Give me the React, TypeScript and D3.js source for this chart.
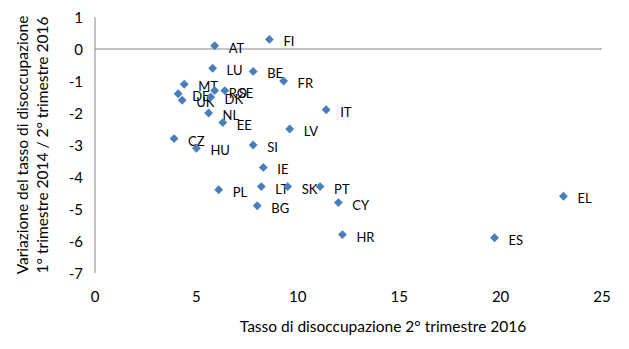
import React from "react";
import * as d3 from "d3";

const countries = ["AT","FI","LU","BE","FR","MT","DE","UK","RO","SE","DK","NL","EE","IT","LV","CZ","HU","SI","IE","PL","LT","SK","PT","BG","CY","HR","EL","ES"];
const unemployment2016 = [5.9,8.6,5.8,7.8,9.3,4.4,4.1,4.3,5.9,6.4,5.7,5.6,6.3,11.4,9.6,3.9,5.0,7.8,8.3,6.1,8.2,9.5,11.1,8.0,12.0,12.2,23.1,19.7];
const change2014to2016 = [0.1,0.3,-0.6,-0.7,-1.0,-1.1,-1.4,-1.6,-1.3,-1.3,-1.5,-2.0,-2.3,-1.9,-2.5,-2.8,-3.1,-3.0,-3.7,-4.4,-4.3,-4.3,-4.3,-4.9,-4.8,-5.8,-4.6,-5.9];
const xTicks = [0,5,10,15,20,25];
const yTicks = [1,0,-1,-2,-3,-4,-5,-6,-7];
const xTitle = "Tasso di disoccupazione 2° trimestre 2016";
const yTitle = ["Variazione del tasso di disoccupazione", "1° trimestre 2014 / 2° trimestre 2016"];

const W = 629, H = 349;
const FONT = "Lato, 'Open Sans', sans-serif";

export default function App() {
  const x = d3.scaleLinear().domain([0, 25]).range([95, 602]);
  const y = d3.scaleLinear().domain([1, -7]).range([17, 273]);
  const diamond = d3.symbol().type(d3.symbolDiamond2).size(50)();
  const axisColor = "#868686";
  return (
    <svg width={W} height={H} style={{ position: "absolute", left: 0, top: 0, background: "#fff" }} fontFamily={FONT}>
      <rect x={0} y={0} width={W} height={H} fill="#fff" />
      <line x1={x(0)} x2={x(0)} y1={y(1)} y2={y(-7)} stroke={axisColor} strokeWidth={1} />
      <line x1={x(0)} x2={x(25)} y1={y(0)} y2={y(0)} stroke={axisColor} strokeWidth={1} />
      {yTicks.map((t) => (
        <text key={"y" + t} x={83} y={y(t)} textAnchor="end" dominantBaseline="central" fontSize={15} fill="#000">
          {t}
        </text>
      ))}
      {xTicks.map((t) => (
        <text key={"x" + t} x={x(t)} y={296} textAnchor="middle" dominantBaseline="central" fontSize={15} fill="#000">
          {t}
        </text>
      ))}
      <text x={383} y={326} textAnchor="middle" dominantBaseline="central" fontSize={15.5} fill="#000">
        {xTitle}
      </text>
      {yTitle.map((line, i) => (
        <text key={"yt" + i} transform={`translate(${22 + i * 20},145) rotate(-90)`} textAnchor="middle" dominantBaseline="central" fontSize={15.5} fill="#000">
          {line}
        </text>
      ))}
      {countries.map((c, i) => (
        <g key={c}>
          <path d={diamond} transform={`translate(${x(unemployment2016[i])},${y(change2014to2016[i])})`} fill="#4A7EBB" />
          <text x={x(unemployment2016[i]) + 14} y={y(change2014to2016[i]) + 2} dominantBaseline="central" fontSize={13} fill="#000">
            {c}
          </text>
        </g>
      ))}
    </svg>
  );
}
